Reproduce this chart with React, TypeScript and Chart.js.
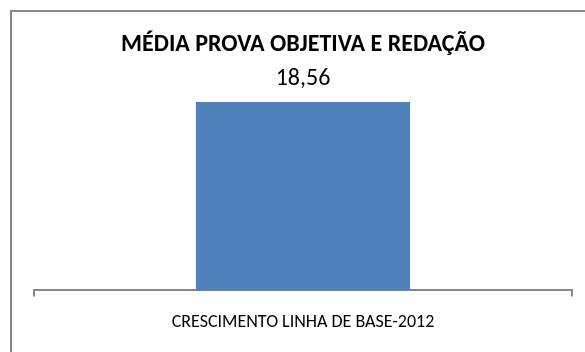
import React, { useEffect, useRef } from "react";
import { Chart, registerables } from "chart.js";

Chart.register(...registerables);

const categories = ["CRESCIMENTO LINHA DE BASE-2012"];
const values = [18.56];
const valueLabels = ["18,56"];
const titleText = "MÉDIA PROVA OBJETIVA E REDAÇÃO";

const FONT = "Calibri, Carlito, 'Open Sans', sans-serif";
const GRAY = "#878787";

const framePlugin = {
  id: "frame",
  beforeDraw(chart: any) {
    const ctx = chart.ctx;
    ctx.save();
    ctx.fillStyle = "#ffffff";
    ctx.fillRect(0, 0, chart.width, chart.height);
    ctx.strokeStyle = GRAY;
    ctx.lineWidth = 2;
    ctx.strokeRect(11, 11, 700, 500);
    ctx.restore();
  },
};

const labelPlugin = {
  id: "valueLabels",
  afterDatasetsDraw(chart: any) {
    const ctx = chart.ctx;
    const meta = chart.getDatasetMeta(0);
    ctx.save();
    ctx.fillStyle = "#000000";
    ctx.font = `24px ${FONT}`;
    ctx.textAlign = "center";
    ctx.textBaseline = "middle";
    meta.data.forEach((bar: any, i: number) => {
      ctx.fillText(valueLabels[i], bar.x, bar.y - 23);
    });
    ctx.restore();
  },
};

export default function App() {
  const ref = useRef<HTMLCanvasElement | null>(null);
  useEffect(() => {
    if (!ref.current) return;
    const chart = new Chart(ref.current, {
      type: "bar",
      data: {
        labels: categories,
        datasets: [
          {
            data: values,
            backgroundColor: "#4F81BD",
            borderWidth: 0,
            barPercentage: 0.398,
            categoryPercentage: 1,
          },
        ],
      },
      options: {
        animation: false,
        responsive: false,
        devicePixelRatio: 1,
        layout: { padding: { left: 34, right: 13, top: 0, bottom: 4 } },
        plugins: {
          legend: { display: false },
          tooltip: { enabled: false },
          title: {
            display: true,
            text: titleText,
            color: "#000000",
            font: { family: FONT, size: 24, weight: "bold" },
            padding: { top: 31, bottom: 27.6 },
          },
        },
        scales: {
          x: {
            grid: {
              display: true,
              offset: true,
              drawOnChartArea: false,
              drawTicks: true,
              tickLength: 6,
              lineWidth: 2,
              color: GRAY,
            },
            border: { display: true, color: GRAY, width: 2 },
            ticks: {
              color: "#000000",
              font: { family: FONT, size: 18 },
              padding: 15,
            },
          },
          y: {
            display: false,
            min: 0,
            max: 20,
          },
        },
      },
      plugins: [framePlugin, labelPlugin],
    });
    return () => chart.destroy();
  }, []);
  return (
    <div style={{ position: "fixed", left: 0, top: 0, width: 585, height: 352 }}>
      <canvas ref={ref} width={585} height={352} style={{ width: 585, height: 352 }} />
    </div>
  );
}
